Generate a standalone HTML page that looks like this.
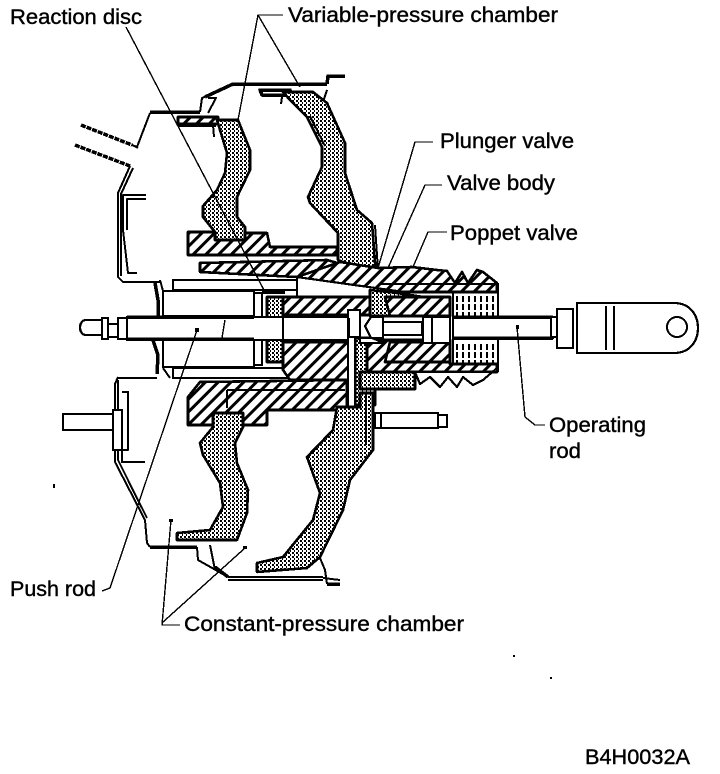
<!DOCTYPE html>
<html><head><meta charset="utf-8"><style>
html,body{margin:0;padding:0;background:#fff}
svg{display:block}
text{font-family:"Liberation Sans",sans-serif;font-size:21px;fill:#000;stroke:#000;stroke-width:.4}
.o{fill:none;stroke:#000;stroke-width:2;stroke-linejoin:round}
.t{fill:none;stroke:#000;stroke-width:3.5;stroke-linejoin:round}
.l{fill:none;stroke:#000;stroke-width:1.4}
.s{fill:url(#st);stroke:#000;stroke-width:2.6;stroke-linejoin:round}
.h{fill:url(#ha);stroke:#000;stroke-width:2.6;stroke-linejoin:round}
.w{fill:#fff;stroke:#000;stroke-width:2.2;stroke-linejoin:round}
</style></head><body>
<svg width="720" height="774" viewBox="0 0 720 774" xmlns="http://www.w3.org/2000/svg" shape-rendering="crispEdges">
<defs>
<pattern id="st" width="4" height="4" patternUnits="userSpaceOnUse"><rect width="4" height="4" fill="#fff"/><rect width="2" height="2" fill="#000"/><rect x="2" y="2" width="1" height="2" fill="#000"/></pattern>
<pattern id="ha" width="9" height="9" patternUnits="userSpaceOnUse" patternTransform="rotate(45)"><rect width="9" height="9" fill="#fff"/><rect width="3.2" height="9" fill="#000"/></pattern>
<pattern id="ti" width="6" height="8" patternUnits="userSpaceOnUse"><rect width="6" height="8" fill="#fff"/><rect width="2" height="6" fill="#000"/></pattern>
</defs>
<rect width="720" height="774" fill="#fff"/>

<!-- upper shell -->
<path class="t" stroke-dasharray="5 1" d="M81 125L132 145M75 145L130 166"/>
<path class="o" d="M132 145L137 147L150 113M134 146L138 148M130 166L118 193V277L123 282H160M133 168L121 194V276"/>
<path class="t" d="M150 112H200"/>
<path class="o" d="M200 112L202 98L213 93L233 83"/>
<path class="t" d="M205 97L233 84H327"/>
<path class="t" d="M327 84L328 76H345"/>
<path class="o" d="M146 195H123V230L128 273H137M146 199H127V230"/>
<path class="o" d="M327 90L322 105M208 98L216 98L208 113"/>
<path class="h" d="M178 117H218V124H178Z"/>
<path class="t" d="M178 125H216"/>
<path class="t" d="M260 90H290V95H262Z"/>

<!-- upper hatched -->
<path class="h" d="M188 232H215L245 240V233H267L270 247H337V255H188Z"/>
<path class="h" d="M200 263L327 260L373 273V285L297 277L200 272Z"/>

<!-- upper diaphragms -->
<path class="s" d="M217 120H238L250 150V170L237 197V217L245 227V240H215V232L203 217V206L217 190L225 173L227 153Z"/>
<path class="s" d="M283 92H313L327 103L345 143V173L357 210L372 223L376 275L338 260V233L310 203L308 197L322 167V147L307 117L290 100Z"/>
<path class="o" d="M213 125L214 137M282 97L281 104M375 225L378 270M310 116L325 146"/>

<!-- hub upper band + bellows -->
<path class="h" d="M340 262L378 268L412 267L437 270L447 271L455 283L462 272L468 283L477 270L483 272L497 283V292H397L370 297L297 277Z"/>
<path class="w" d="M297 277L397 291L370 297H297Z"/>
<path class="h" d="M267 297H370V315H267Z"/>
<path class="s" d="M370 290L397 293L430 298V316H370Z"/>
<path class="h" d="M385 297H450V316H390Z"/>
<path class="o" d="M453 292V364M498 283V372M380 284H497"/>
<rect x="455" y="294" width="42" height="22" fill="url(#ti)"/>
<rect x="455" y="342" width="42" height="22" fill="url(#ti)"/>

<!-- push-rod housing -->
<path class="w" d="M173 280H297V290H173Z"/>
<path class="w" d="M163 291H254V316H163Z"/>
<path class="w" d="M163 340H254V367H163Z"/>
<path class="w" d="M173 368H290V378H173Z"/>
<path class="w" d="M254 293H262V318H254ZM254 340H262V365H254Z"/>
<path class="t" d="M155 283L158 300V317M153 340L158 355L157 374"/>
<path class="o" d="M118 378H157M160 280L163 291M163 368L170 378"/>
<path class="t" d="M262 292H285"/>
<path class="s" d="M267 297H283V362H267Z"/>

<!-- lower hub -->
<path class="h" d="M283 342H350V380H290L283 370Z"/>
<path class="s" d="M355 338H375V405H355Z"/>
<path class="h" d="M367 340H450V364H497V372H367Z"/>
<path class="s" d="M360 372H415V389H360Z"/>
<path class="w" d="M360 338H372L384 343H360Z"/>
<path class="w" d="M415 372L420 384L430 377L440 387L448 377L457 387L463 377L473 385L483 380L497 368V372Z"/>
<path class="h" d="M390 342H450V362H385Z"/>

<!-- rods -->
<path class="w" d="M127 317H283V340H127Z"/>
<path class="w" d="M283 317H348V340H283Z"/>
<path class="w" d="M348 310H360V337H348Z"/>
<path class="w" d="M102 318H108V339H102ZM108 324H118V337H108ZM118 318H127V339H118Z"/>
<path class="w" d="M102 320H86C78 320 78 335 86 335H102Z"/>
<path class="t" d="M127 317H254M127 339H254"/>
<path class="l" d="M225 320L222 338"/>
<path class="o" d="M349 318V337"/>
<path class="w" d="M383 317H371L365 326L371 338H383Z"/>
<path class="w" d="M383 322H422V335H383Z"/>
<path class="w" d="M423 317H450V343H423Z"/>
<path class="o" d="M432 317V343"/>
<path class="w" d="M453 317H553V338H453Z"/>
<path class="t" d="M453 317H553M453 338H553"/>
<path class="w" d="M551 317H557V337H551Z"/>
<path class="w" d="M557 309H573V348H557Z"/>
<path class="w" d="M577 303H674C690 303 698 315 698 328C698 341 690 353 674 353H577Z"/>
<path class="o" d="M606 306V350M614 306V350"/>
<circle class="o" cx="677" cy="327" r="10"/>

<!-- lower stem -->
<path class="w" d="M348 337H355V408H348Z"/>

<!-- lower hatched -->
<path class="h" d="M188 397L200 382L347 380V410H267V425H188Z"/>
<path class="o" d="M227 390H345M227 390V408"/>

<!-- lower diaphragms -->
<path class="s" d="M213 413H243V427L235 443L237 463L248 490L247 513L237 540H177V533L210 530L223 507L220 483L203 455L200 443L213 427Z"/>
<path class="s" d="M337 407H360V393H373V450L350 480L343 510L320 557L307 568L257 572V563L283 557L313 520L320 493L307 457L333 430Z"/>
<path class="o" d="M366 393V445"/>

<!-- lower shell -->
<path class="o" d="M118 377L115 384V462L145 520L147 543L150 547M118 380V460L147 518"/>
<path class="t" d="M150 547H197"/>
<path class="o" d="M197 547L198 560L228 577M210 545L215 570"/>
<path class="t" d="M215 567L228 577"/>
<path class="o" d="M228 577H323M228 580H323M320 558L325 570L327 584M323 578L340 580"/>
<path class="t" d="M327 584H340"/>
<path class="o" d="M122 392H128V450H122V462H145"/>
<!-- bolts -->
<path class="w" d="M63 414H113V430H63Z"/>
<path class="w" d="M113 410H122V450H113Z"/>
<path class="w" d="M375 413H438V428H375Z"/>
<path class="w" d="M438 415H447V427H438Z"/>
<path class="o" d="M381 413V428"/>

<!-- leader lines -->
<path class="l" d="M126 27L265 292"/>
<path class="l" d="M283 15H258L238 120M258 15L300 87"/>
<path class="l" d="M433 142H415L378 268"/>
<path class="l" d="M442 185H425L388 268"/>
<path class="l" d="M447 232H428L413 267"/>
<path class="l" d="M517 327L525 417L535 425H545"/>
<path class="l" d="M197 330L110 588L102 591"/>
<path class="l" d="M180 625H162L171 520M163 622L245 548"/>
<rect x="195" y="328" width="4" height="4"/><rect x="516" y="325" width="3" height="4"/><rect x="169" y="519" width="4" height="3"/><rect x="243" y="546" width="4" height="3"/>
<rect x="53" y="484" width="2" height="4"/><rect x="513" y="655" width="2" height="2"/><rect x="550" y="677" width="2" height="2"/>

<!-- labels -->
<text x="10" y="24" textLength="132" lengthAdjust="spacingAndGlyphs">Reaction disc</text>
<text x="288" y="22" textLength="270" lengthAdjust="spacingAndGlyphs">Variable-pressure chamber</text>
<text x="440" y="148" textLength="134" lengthAdjust="spacingAndGlyphs">Plunger valve</text>
<text x="447" y="190" textLength="108" lengthAdjust="spacingAndGlyphs">Valve body</text>
<text x="450" y="240" textLength="128" lengthAdjust="spacingAndGlyphs">Poppet valve</text>
<text x="549" y="432" textLength="97" lengthAdjust="spacingAndGlyphs">Operating</text>
<text x="549" y="458" textLength="32" lengthAdjust="spacingAndGlyphs">rod</text>
<text x="10" y="596" textLength="86" lengthAdjust="spacingAndGlyphs">Push rod</text>
<text x="184" y="631" textLength="280" lengthAdjust="spacingAndGlyphs">Constant-pressure chamber</text>
<text x="585" y="764" textLength="105" lengthAdjust="spacingAndGlyphs">B4H0032A</text>
</svg>
</body></html>
